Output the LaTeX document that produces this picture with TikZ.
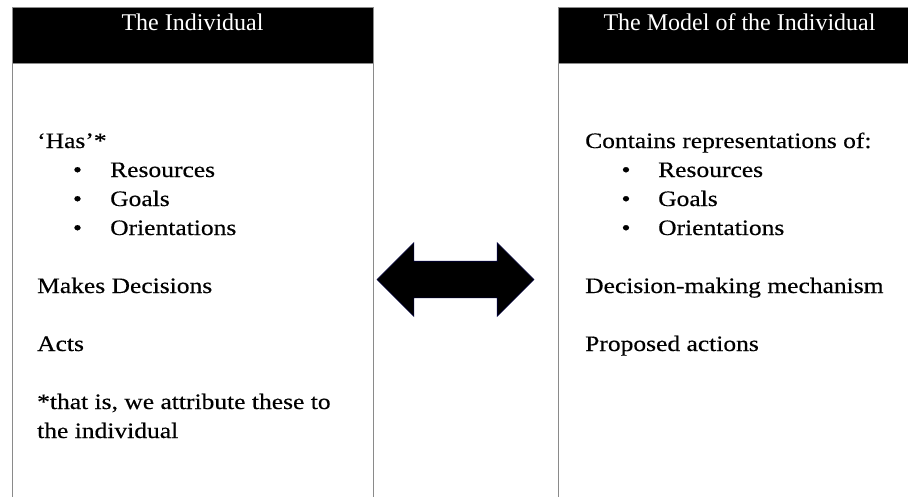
\documentclass[tikz,border=0pt]{standalone}
\usepackage{fontspec}
\setmainfont{Liberation Serif}
\newfontfamily\bodyfont[FakeStretch=1.16, FakeBold=0.4]{Liberation Serif}
\usepackage{tikz}
\usetikzlibrary {positioning,
                 shapes.arrows}
\definecolor{framegray}{HTML}{8A8A8A}
\tikzset{
        panel/.style={draw=framegray, line width=1.3pt, minimum width=361pt,
                      minimum height=520pt, anchor=north west, inner sep=0pt},
        headbar/.style={fill=black, draw=black!45, line width=0.8pt,
                        minimum width=361pt, minimum height=56pt,
                        anchor=north west, inner sep=0pt},
        headtext/.style={text=white, font=\fontsize{24}{28}\selectfont,
                         anchor=base, inner sep=0pt},
        txt/.style={font=\bodyfont\fontsize{22}{29}\selectfont,
                    anchor=base west, inner sep=0pt},
        bul/.style={txt, anchor=base},
        bigarrow/.style={double arrow, fill=black, draw=black!75!blue,
                         line width=0.6pt, inner sep=0pt,
                         text height=18pt, text depth=18pt,
                         double arrow tip angle=90,
                         double arrow head extend=18.5pt,
                         minimum height=157pt},
 }

\begin{document}
\begin{tikzpicture}[x=1pt, y=-1pt]
    \clip (0,0) rectangle (908,496);
    % the individual
    \node[panel] (left) at (12,7) {};
    \node[headbar] (lhead) at (12,7) {};
    \node[headtext] (ltitle) at (192.5,30) {The Individual};
    \node[txt] (has) at (37,148) {‘Has’*};
    \foreach \w [count=\i] in {Resources, Goals, Orientations} {
        \node[bul] (lb\i) at (77.5,148+29*\i) {\textbullet};
        \node[txt] (lw\i) at (110,148+29*\i) {\w};
    }
    \node[txt] (decides) at (37,293) {Makes Decisions};
    \node[txt] (acts) at (37,351) {Acts};
    \node[txt] (note) at (37,409) {*that is, we attribute these to};
    \node[txt] (note2) at (37,438) {the individual};
    % the model
    \node[panel] (right) at (558,7) {};
    \node[headbar] (rhead) at (558,7) {};
    \node[headtext] (rtitle) at (739.5,30) {The Model of the Individual};
    \node[txt] (contains) at (585,148) {Contains representations of:};
    \foreach \w [count=\i] in {Resources, Goals, Orientations} {
        \node[bul] (rb\i) at (626,148+29*\i) {\textbullet};
        \node[txt] (rw\i) at (658,148+29*\i) {\w};
    }
    \node[txt] (mechanism) at (585,293) {Decision-making mechanism};
    \node[txt] (proposed) at (585,351) {Proposed actions};
    % link between the two
    \node[bigarrow] (link) at (455.5,279.5) {};
\end{tikzpicture}
\end{document}
